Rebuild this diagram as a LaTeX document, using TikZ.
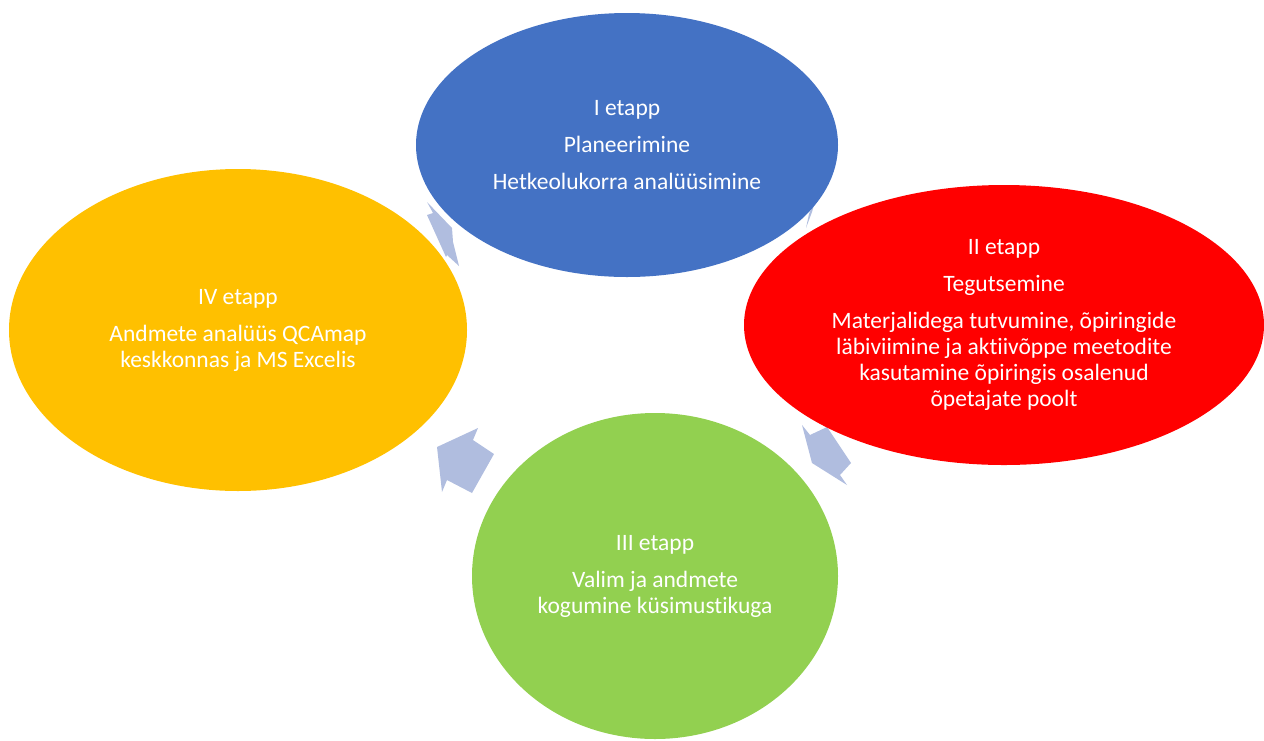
\documentclass[tikz,border=0pt]{standalone}
\usepackage{fontspec}
\setmainfont{Carlito}[Ligatures={NoCommon}]
\usetikzlibrary{shapes.geometric}

\definecolor{etappblue}{HTML}{4472C4}
\definecolor{etappred}{HTML}{FF0000}
\definecolor{etappgreen}{HTML}{92D050}
\definecolor{etappyellow}{HTML}{FFC000}
\definecolor{cyclearrow}{HTML}{B0BDDF}

\begin{document}
\begin{tikzpicture}[x=1pt,y=-1pt,
    etapp/.style={ellipse, inner sep=0pt, text=white, align=center,
        font=\fontsize{23.5}{26}\selectfont},
    cyclepart/.style={fill=cyclearrow, draw=none}]
    % raam
    \useasboundingbox (0,0) rectangle (1264,740);

    % nooled (osaliselt ellipside taga)
    \fill[cyclepart] (427,202) -- (433,213) -- (427,215) -- (446,257)
        -- (447,255) -- (459,266) -- (453,242) -- (452,228) -- cycle;
    \fill[cyclepart] (816,198) -- (812,212) -- (806,228) -- (809,214) -- cycle;
    \fill[cyclepart] (802,425) -- (810,435) -- (827,427) -- (851,463)
        -- (840,475) -- (847,485) -- (812,463) -- cycle;
    \fill[cyclepart] (437,447) -- (478,428) -- (473,440) -- (494,454)
        -- (472,493) -- (447,480) -- (442,492) -- cycle;

    % I etapp
    \node[etapp, fill=etappblue, minimum width=422pt, minimum height=264pt]
        (planning) at (627,145)
        {I etapp\\[11pt] Planeerimine\\[11pt] Hetkeolukorra analüüsimine};

    % II etapp
    \node[etapp, fill=etappred, minimum width=520pt, minimum height=280pt]
        (acting) at (1004,325)
        {II etapp\\[11pt] Tegutsemine\\[11pt]
         Materjalidega tutvumine, õpiringide\\
         läbiviimine ja aktiivõppe meetodite\\
         kasutamine õpiringis osalenud\\
         õpetajate poolt};

    % III etapp
    \node[etapp, fill=etappgreen, minimum width=366pt, minimum height=326pt]
        (sampling) at (655,576)
        {III etapp\\[11pt] Valim ja andmete\\ kogumine küsimustikuga};

    % IV etapp
    \node[etapp, fill=etappyellow, minimum width=458pt, minimum height=322pt]
        (analysis) at (238,330)
        {IV etapp\\[11pt] Andmete analüüs QCAmap\\ keskkonnas ja MS Excelis};
\end{tikzpicture}
\end{document}
